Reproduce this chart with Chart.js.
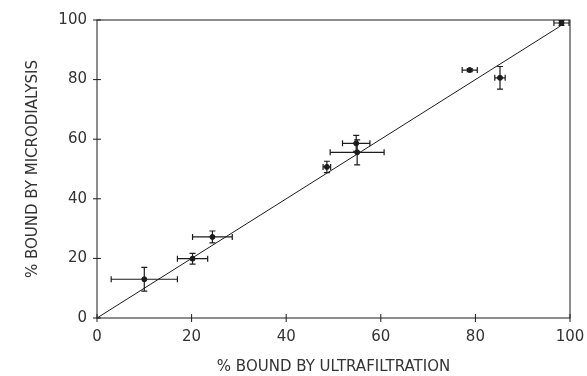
<!DOCTYPE html>
<html>
<head>
<meta charset="utf-8">
<script src="https://cdn.jsdelivr.net/npm/chart.js@4/dist/chart.umd.min.js"></script>
<style>
  html, body { margin: 0; padding: 0; background: #fff; }
  #wrap { width: 587px; height: 376px; }
</style>
</head>
<body>
<div id="wrap"><canvas id="c" width="587" height="376"></canvas></div>
<script>
// 데이터
const ufValues = [10.0, 20.2, 24.4, 48.6, 54.8, 55.0, 78.8, 85.2, 98.2]; // % bound by ultrafiltration
const mdValues = [13.0, 19.9, 27.2, 50.7, 58.6, 55.6, 83.2, 80.6, 99.0]; // % bound by microdialysis
const ufErrors = [7.0, 3.2, 4.2, 0.8, 2.9, 5.7, 1.6, 1.1, 1.6];
const mdErrors = [4.0, 1.8, 2.0, 1.9, 2.7, 4.2, 0.5, 3.8, 0.8];
const lineX = [0, 98];
const lineY = [0, 98];
const tickValues = [0, 20, 40, 60, 80, 100];

const ink = "#1c1c1c";
const textInk = "#333333";
const font = "'DejaVu Sans', sans-serif";

const points = ufValues.map((x, i) => ({ x: x, y: mdValues[i] }));
const linePoints = lineX.map((x, i) => ({ x: x, y: lineY[i] }));

// 오차 막대 + 축 눈금 (축을 가로지르는 짧은 십자)
const errorBars = {
  id: "errorBars",
  afterDatasetsDraw(chart) {
    const ctx = chart.ctx;
    const xs = chart.scales.x;
    const ys = chart.scales.y;
    ctx.save();
    ctx.strokeStyle = ink;
    ctx.lineWidth = 1.2;
    const cap = 3;
    points.forEach((p, i) => {
      const px = xs.getPixelForValue(p.x);
      const py = ys.getPixelForValue(p.y);
      const x0 = xs.getPixelForValue(p.x - ufErrors[i]);
      const x1 = xs.getPixelForValue(p.x + ufErrors[i]);
      const y0 = ys.getPixelForValue(p.y - mdErrors[i]);
      const y1 = ys.getPixelForValue(p.y + mdErrors[i]);
      ctx.beginPath();
      ctx.moveTo(x0, py); ctx.lineTo(x1, py);
      ctx.moveTo(x0, py - cap); ctx.lineTo(x0, py + cap);
      ctx.moveTo(x1, py - cap); ctx.lineTo(x1, py + cap);
      ctx.moveTo(px, y0); ctx.lineTo(px, y1);
      ctx.moveTo(px - cap, y0); ctx.lineTo(px + cap, y0);
      ctx.moveTo(px - cap, y1); ctx.lineTo(px + cap, y1);
      ctx.stroke();
    });
    // 눈금 표시
    const a = chart.chartArea;
    ctx.lineWidth = 1;
    tickValues.forEach((v) => {
      const tx = xs.getPixelForValue(v);
      const ty = ys.getPixelForValue(v);
      ctx.beginPath();
      ctx.moveTo(tx, a.bottom - 4); ctx.lineTo(tx, a.bottom + 4);
      ctx.moveTo(a.left - 4, ty); ctx.lineTo(a.left + 4, ty);
      ctx.stroke();
    });
    // 테두리
    ctx.strokeRect(a.left, a.top, a.right - a.left, a.bottom - a.top);
    ctx.restore();
  },
};

new Chart(document.getElementById("c").getContext("2d"), {
  type: "scatter",
  data: {
    datasets: [
      {
        data: linePoints,
        showLine: true,
        borderColor: ink,
        borderWidth: 1,
        pointRadius: 0,
      },
      {
        data: points,
        backgroundColor: ink,
        borderColor: ink,
        pointRadius: 2.5,
      },
    ],
  },
  options: {
    responsive: false,
    animation: false,
    layout: { padding: { top: 20, right: 17, left: 0, bottom: 0 } },
    plugins: { legend: { display: false }, tooltip: { enabled: false } },
    scales: {
      x: {
        type: "linear",
        min: 0,
        max: 100,
        afterBuildTicks: (s) => { s.ticks = tickValues.map((v) => ({ value: v })); },
        afterFit: (s) => { s.height = 58; s.paddingRight = 0; s.paddingLeft = 0; },
        grid: { display: false, drawTicks: false },
        border: { display: false },
        ticks: { color: textInk, font: { family: font, size: 15 }, padding: 10 },
        title: {
          display: true,
          text: "% BOUND BY ULTRAFILTRATION",
          color: textInk,
          font: { family: font, size: 15 },
          padding: { top: 10, bottom: 0 },
        },
      },
      y: {
        type: "linear",
        min: 0,
        max: 100,
        afterBuildTicks: (s) => { s.ticks = tickValues.map((v) => ({ value: v })); },
        afterFit: (s) => { s.width = 97; s.paddingTop = 0; s.paddingBottom = 0; },
        grid: { display: false, drawTicks: false },
        border: { display: false },
        ticks: { color: textInk, font: { family: font, size: 15 }, padding: 10 },
        title: {
          display: true,
          text: "% BOUND BY MICRODIALYSIS",
          color: textInk,
          font: { family: font, size: 15 },
          padding: { top: 24, bottom: 0 },
        },
      },
    },
  },
  plugins: [errorBars],
});
</script>
</body>
</html>
